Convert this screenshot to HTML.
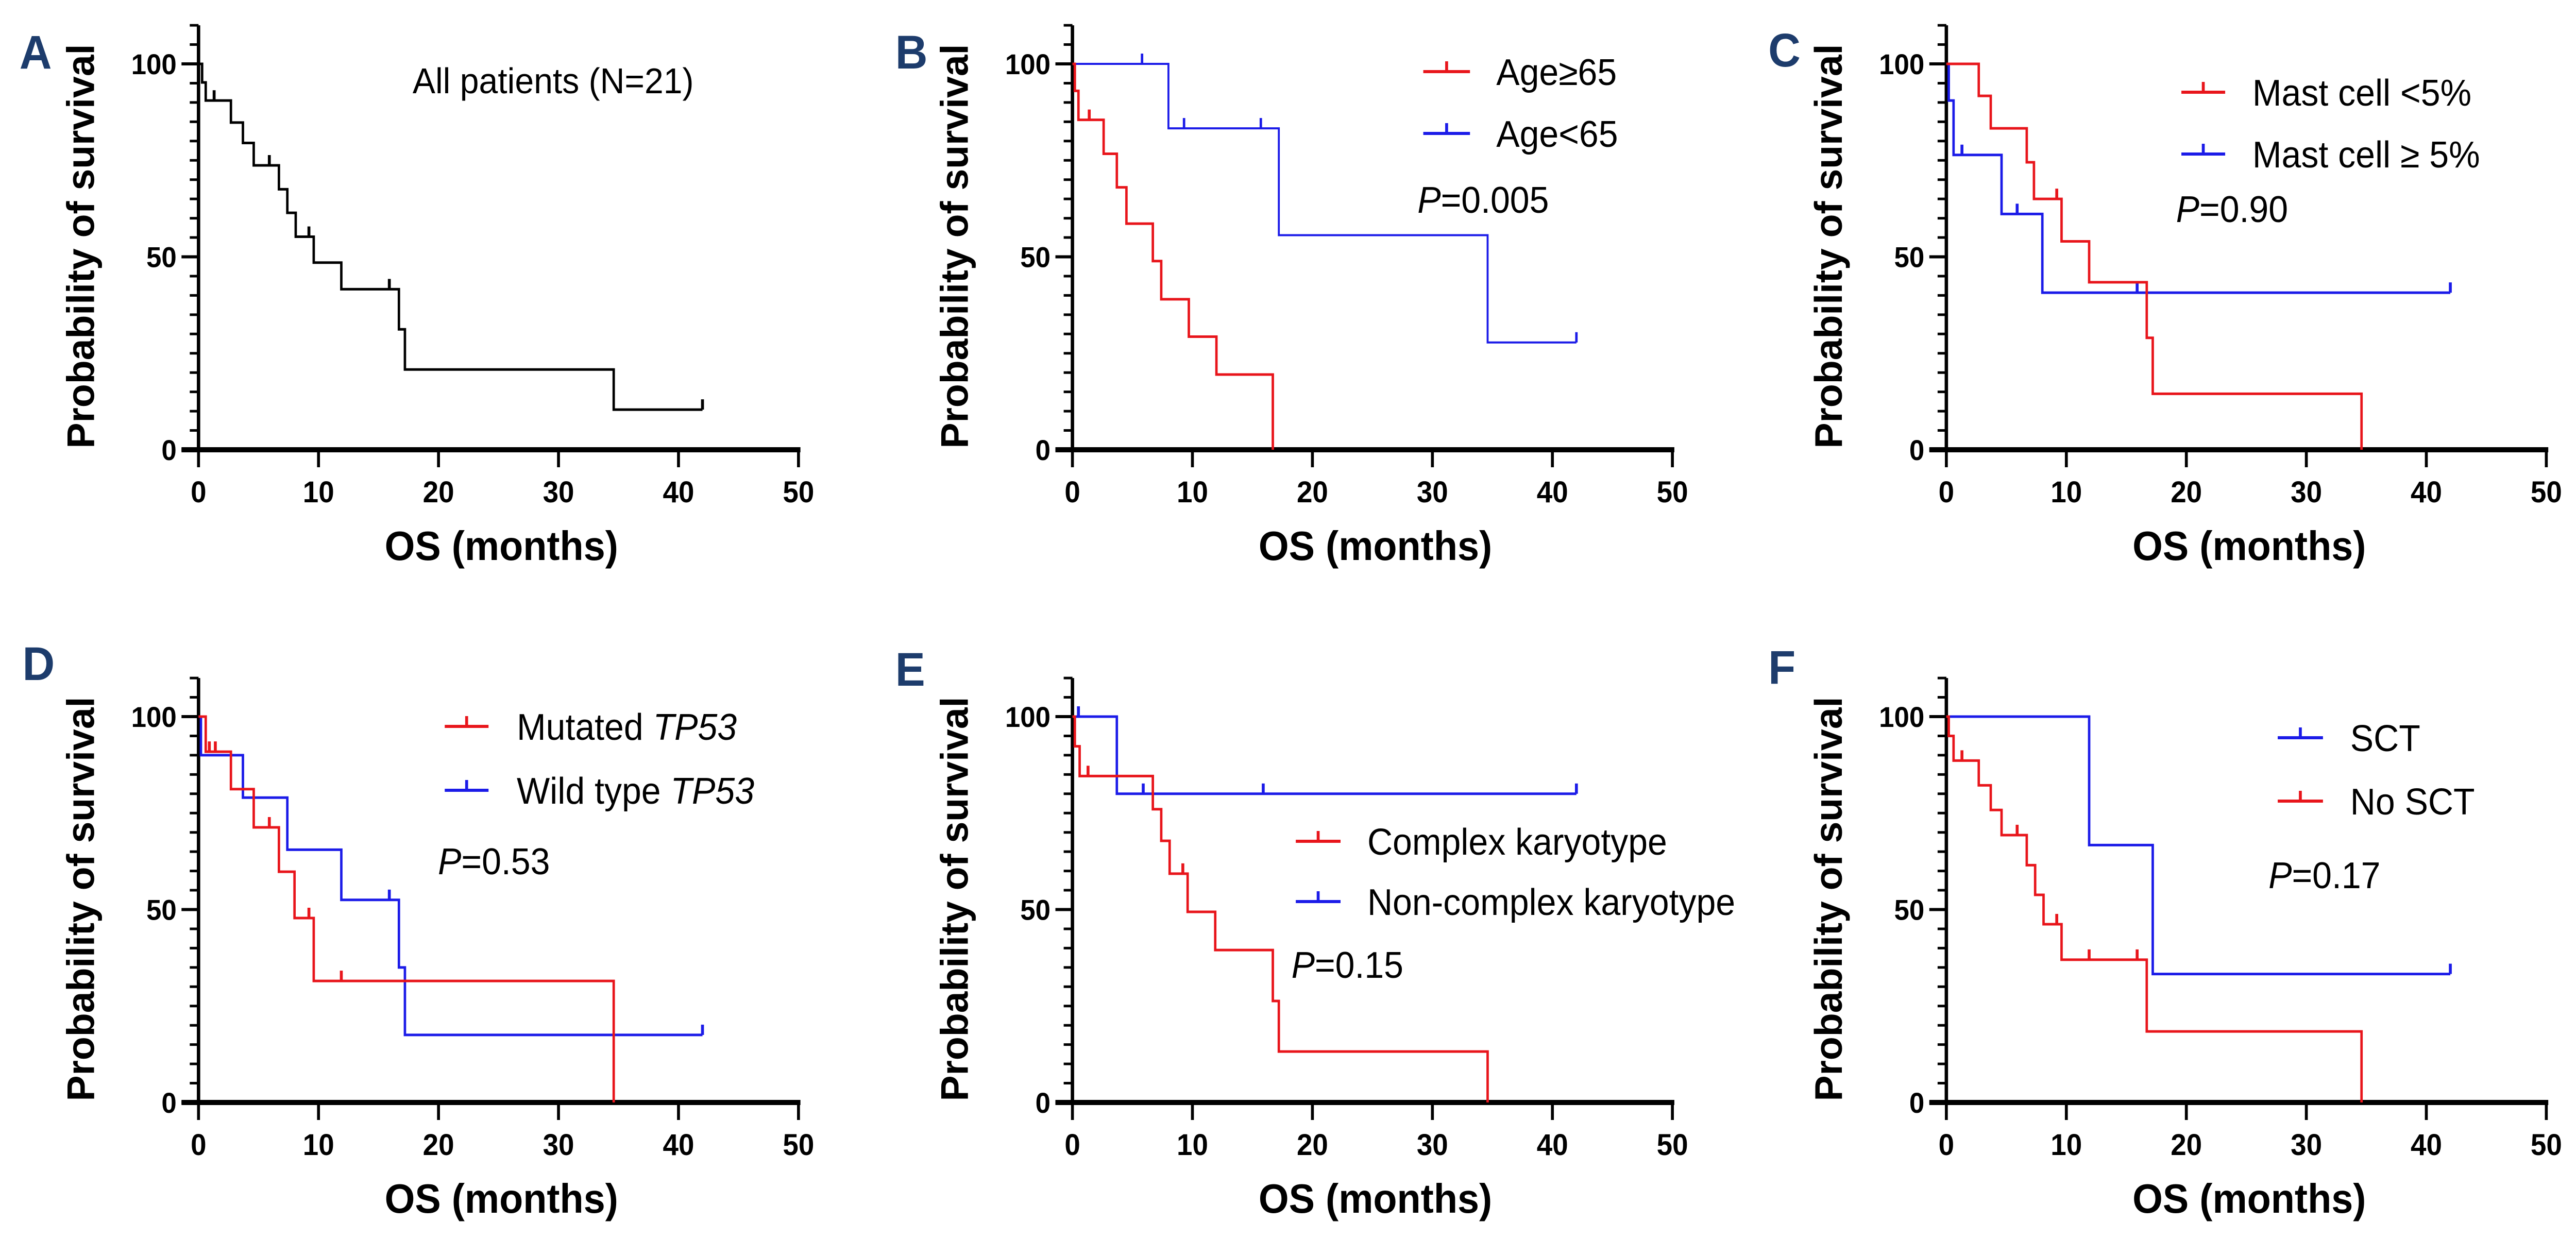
<!DOCTYPE html>
<html><head><meta charset="utf-8">
<style>
html,body{margin:0;padding:0;background:#fff;width:100%;height:100%;overflow:hidden;}
svg{display:block;width:100vw;height:100vh;overflow:hidden;}
text{font-family:"Liberation Sans",Arial,sans-serif;}
</style></head>
<body>
<svg id="fig" viewBox="0 0 5294 2405" preserveAspectRatio="none" xmlns="http://www.w3.org/2000/svg"></svg>
<script>
// ---- Panel A: all patients ----
const aTimes=[0.3,0.6,2.7,3.7,4.6,6.7,7.4,8.1,9.6,11.9,16.7,17.2,34.6];
const aSurv=[95.2,90.5,84.8,79.5,73.7,67.5,61.4,55.2,48.5,41.6,31.2,20.8,10.4];
const aCensor=[1.3,5.9,9.2,15.9,42];
const aEnd=42;
// ---- Panel B: age ----
const bRedTimes=[0.2,0.5,2.6,3.7,4.5,6.7,7.4,9.7,12,16.7];
const bRedSurv=[93,85.5,76.7,68,58.6,48.9,39,29.3,19.5,0];
const bRedCensor=[1.4];
const bBlueTimes=[8.0,17.2,34.6];
const bBlueSurv=[83.3,55.6,27.8];
const bBlueCensor=[5.8,9.3,15.7,42];
const bBlueEnd=42;
// ---- Panel C: mast cell ----
const cRedTimes=[2.7,3.7,6.7,7.3,9.6,11.9,16.7,17.2,34.6];
const cRedSurv=[91.7,83.3,74.5,65,54,43.4,29,14.5,0];
const cRedCensor=[9.2];
const cBlueTimes=[0.2,0.6,4.6,8.0];
const cBlueSurv=[90.5,76.4,61.1,40.7];
const cBlueCensor=[1.3,5.9,15.9,42];
const cBlueEnd=42;
// ---- Panel D: TP53 ----
const dRedTimes=[0.6,2.7,4.6,6.7,8.0,9.6,34.6];
const dRedSurv=[90.9,81.2,71.3,59.8,47.8,31.5,0];
const dRedCensor=[0.9,1.4,5.9,9.2,11.9];
const dBlueTimes=[0.2,3.7,7.4,11.9,16.7,17.2];
const dBlueSurv=[90,79,65.5,52.5,35,17.5];
const dBlueCensor=[15.9,42];
const dBlueEnd=42;
// ---- Panel E: karyotype ----
const eRedTimes=[0.2,0.6,6.7,7.4,8.1,9.6,11.9,16.7,17.2,34.6];
const eRedSurv=[92.3,84.6,76,67.8,59.3,49.4,39.5,26.3,13.2,0];
const eRedCensor=[1.3,9.2];
const eBlueTimes=[3.7];
const eBlueSurv=[80];
const eBlueCensor=[0.5,5.9,15.9,42];
const eBlueEnd=42;
// ---- Panel F: SCT ----
const fBlueTimes=[11.9,17.2];
const fBlueSurv=[66.7,33.3];
const fBlueCensor=[42];
const fBlueEnd=42;
const fRedTimes=[0.2,0.6,2.7,3.7,4.6,6.7,7.4,8.1,9.6,16.7,34.6];
const fRedSurv=[95,88.6,82.2,75.8,69.3,61.5,53.8,46.2,37,18.4,0];
const fRedCensor=[1.3,5.9,9.2,11.9,15.9];
// axis ticks
const xTicks=[0,10,20,30,40,50];
const yMajor=[0,50,100];
const yMinor=[5,10,15,20,25,30,35,40,45,55,60,65,70,75,80,85,90,95,105,110];

const NS="http://www.w3.org/2000/svg";
const svg=document.getElementById('fig');
const RED="#e8151b", BLUE="#1b1be8";
function el(tag,attrs,parent){const e=document.createElementNS(NS,tag);for(const k in attrs)e.setAttribute(k,attrs[k]);(parent||svg).appendChild(e);return e;}

const cols=[408,2204,4000], rows=[873,2140], W=1233, H=749;

function makePanel(col,row,name){
  const ox=cols[col], oy=rows[row];
  const g=el('g',{});
  
  
  const xs=v=>ox+v/50*W, ys=v=>oy-v/100*H;
  const ya=el('line',{x1:ox,y1:ys(110),x2:ox,y2:oy,stroke:'#000','stroke-width':7},g);
  
  
  yMinor.forEach(v=>{const t=el('line',{x1:ox-18,y1:ys(v),x2:ox,y2:ys(v),stroke:'#000','stroke-width':5},g);
    
    });
  yMajor.forEach(v=>{const t=el('line',{x1:ox-35,y1:ys(v),x2:ox,y2:ys(v),stroke:'#000','stroke-width':6},g);
    
    
    const l=el('text',{x:ox-45,y:ys(v)+20,'text-anchor':'end','font-size':56,'font-weight':'bold'},g);l.textContent=v;
    
    });
  const xa=el('line',{x1:ox-35,y1:oy,x2:xs(50)+4,y2:oy,stroke:'#000','stroke-width':10},g);
  
  
  xTicks.forEach(v=>{const t=el('line',{x1:xs(v),y1:oy,x2:xs(v),y2:oy+34,stroke:'#000','stroke-width':6},g);
    
    
    const l=el('text',{x:xs(v),y:oy+102,'text-anchor':'middle','font-size':58,'font-weight':'bold'},g);l.textContent=v;
    
    });
  const xt=el('text',{x:ox+W/2+6,y:oy+214,'text-anchor':'middle','font-size':80,'font-weight':'bold'},g);xt.textContent='OS (months)';
  
  
  const tx=ox-215, ty=oy-395;
  const yt=el('text',{x:0,y:0,'text-anchor':'middle','font-size':80,'font-weight':'bold',textLength:785,lengthAdjust:'spacingAndGlyphs',transform:`translate(${tx},${ty}) rotate(-90)`},g);
  yt.textContent='Probability of survival';
  
  
  return {g,xs,ys,ox,oy};
}

function survAt(times,surv,t){let s=100;for(let i=0;i<times.length;i++){if(times[i]<=t)s=surv[i];}return s;}

function drawKM(p,times,surv,censor,endT,color,sw,name){
  let d=`M${p.xs(0)},${p.ys(100)}`;
  for(let i=0;i<times.length;i++){d+=` H${p.xs(times[i])} V${p.ys(surv[i])}`;}
  if(surv[surv.length-1]>0&&endT!=null)d+=` H${p.xs(endT)}`;
  const path=el('path',{d:d,fill:'none',stroke:color,'stroke-width':sw},p.g);
  
  
  censor.forEach(c=>{const s=survAt(times,surv,c);const y=p.ys(s);
    const m=el('line',{x1:p.xs(c),y1:y,x2:p.xs(c),y2:y-20,stroke:color,'stroke-width':sw+1},p.g);
    
    });
}

function letter(txt,x,y){const t=el('text',{x:x,y:y,'font-size':92,'font-weight':'bold',fill:'#1d3c6c'});t.textContent=txt;
  
  }

function legendEntry(p,x1,x2,y,color,tx,parts){
  const ln=el('line',{x1:x1,y1:y,x2:x2,y2:y,stroke:color,'stroke-width':6},p.g);
  
  
  const tk=el('line',{x1:(x1+x2)/2,y1:y,x2:(x1+x2)/2,y2:y-20,stroke:color,'stroke-width':6},p.g);
  
  
  const t=el('text',{x:tx,y:y+26,'font-size':72},p.g);
  
  
  parts.forEach(([s,it])=>{const sp=el('tspan',{},t);if(it)sp.setAttribute('font-style','italic');sp.textContent=s;});
}
function pval(p,x,cy,val){const t=el('text',{x:x,y:cy+26,'font-size':72},p.g);
  
  
  const a=el('tspan',{'font-style':'italic'},t);a.textContent='P';const b=el('tspan',{},t);b.textContent='='+val;}

const pA=makePanel(0,0,'panel-a');
drawKM(pA,aTimes,aSurv,aCensor,aEnd,'#000',5,'all-patients-curve');
{const t=el('text',{x:848,y:181,'font-size':70},pA.g);t.textContent='All patients (N=21)';
 
 }
letter('A',40,133);

const pB=makePanel(1,0,'panel-b');
drawKM(pB,bBlueTimes,bBlueSurv,bBlueCensor,bBlueEnd,BLUE,4,'age-under-65-curve');
drawKM(pB,bRedTimes,bRedSurv,bRedCensor,null,RED,5,'age-65-plus-curve');
legendEntry(pB,2925,3021,139,RED,3075,[['Age≥65',false]]);
legendEntry(pB,2925,3021,259,BLUE,3075,[['Age<65',false]]);
pval(pB,2913,387,'0.005');
letter('B',1840,133);

const pC=makePanel(2,0,'panel-c');
drawKM(pC,cBlueTimes,cBlueSurv,cBlueCensor,cBlueEnd,BLUE,5,'mast-cell-high-curve');
drawKM(pC,cRedTimes,cRedSurv,cRedCensor,null,RED,5,'mast-cell-low-curve');
legendEntry(pC,4483,4573,179,RED,4629,[['Mast cell <5%',false]]);
legendEntry(pC,4483,4573,299,BLUE,4629,[['Mast cell ≥ 5%',false]]);
pval(pC,4472,405,'0.90');
letter('C',3634,129);

const pD=makePanel(0,1,'panel-d');
drawKM(pD,dBlueTimes,dBlueSurv,dBlueCensor,dBlueEnd,BLUE,5,'wild-type-tp53-curve');
drawKM(pD,dRedTimes,dRedSurv,dRedCensor,null,RED,5,'mutated-tp53-curve');
legendEntry(pD,914,1004,1410,RED,1062,[['Mutated ',false],['TP53',true]]);
legendEntry(pD,914,1004,1534,BLUE,1062,[['Wild type ',false],['TP53',true]]);
pval(pD,900,1671,'0.53');
letter('D',46,1320);

const pE=makePanel(1,1,'panel-e');
drawKM(pE,eBlueTimes,eBlueSurv,eBlueCensor,eBlueEnd,BLUE,5,'non-complex-karyotype-curve');
drawKM(pE,eRedTimes,eRedSurv,eRedCensor,null,RED,5,'complex-karyotype-curve');
legendEntry(pE,2663,2755,1633,RED,2810,[['Complex karyotype',false]]);
legendEntry(pE,2663,2755,1750,BLUE,2810,[['Non-complex karyotype',false]]);
pval(pE,2654,1872,'0.15');
letter('E',1840,1331);

const pF=makePanel(2,1,'panel-f');
drawKM(pF,fBlueTimes,fBlueSurv,fBlueCensor,fBlueEnd,BLUE,5,'sct-curve');
drawKM(pF,fRedTimes,fRedSurv,fRedCensor,null,RED,5,'no-sct-curve');
legendEntry(pF,4681,4774,1432,BLUE,4830,[['SCT',false]]);
legendEntry(pF,4681,4774,1555,RED,4830,[['No SCT',false]]);
pval(pF,4662,1698,'0.17');
letter('F',3634,1327);
</script>
</body></html>
